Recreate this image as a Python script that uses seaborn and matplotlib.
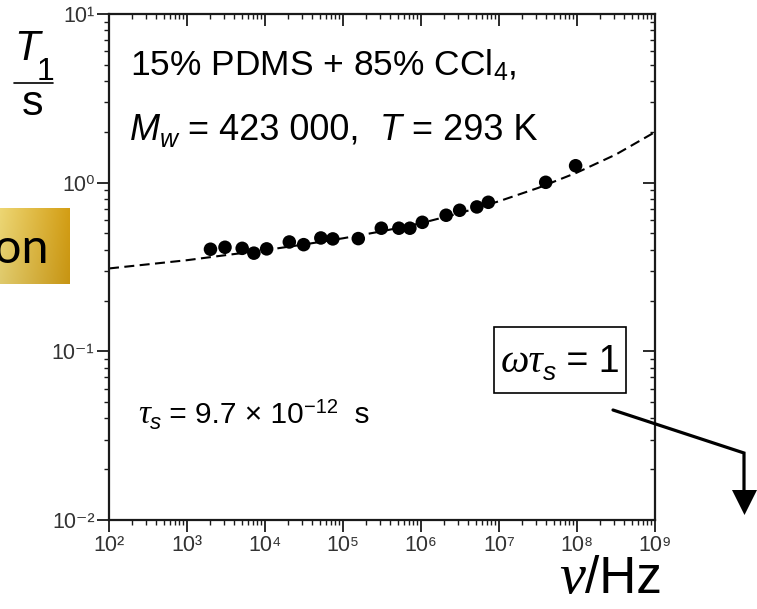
import matplotlib
matplotlib.use("Agg")
import matplotlib.pyplot as plt
from matplotlib.patches import Rectangle, Polygon
from matplotlib.lines import Line2D
from matplotlib.ticker import NullFormatter, LogLocator
import numpy as np
import pandas as pd
import seaborn as sns

# ---------------- data ----------------
freq_hz = [2.0e3, 3.07e3, 5.1e3, 7.2e3, 1.05e4, 2.05e4, 3.13e4, 5.2e4, 7.4e4, 1.57e5,
           3.1e5, 5.2e5, 7.2e5, 1.04e6, 2.1e6, 3.13e6, 5.2e6, 7.3e6, 3.97e7, 9.6e7]
t1_s = [0.403, 0.414, 0.408, 0.382, 0.405, 0.445, 0.429, 0.470, 0.464, 0.466,
        0.537, 0.537, 0.537, 0.582, 0.641, 0.686, 0.718, 0.765, 1.005, 1.26]

curve_freq_hz = [1e2, 3.16e2, 1e3, 3.16e3, 1e4, 3.16e4, 1e5, 3.16e5, 1e6, 3.16e6,
                 1e7, 3.16e7, 1e8, 3.16e8, 1e9]
curve_t1_s = [0.310, 0.328, 0.347, 0.372, 0.398, 0.430, 0.468, 0.515, 0.575, 0.660,
              0.776, 0.930, 1.148, 1.470, 1.995]

xtick_values = [1e2, 1e3, 1e4, 1e5, 1e6, 1e7, 1e8, 1e9]
xtick_labels = ["10²", "10³", "10⁴", "10⁵", "10⁶", "10⁷", "10⁸", "10⁹"]
ytick_values = [1e-2, 1e-1, 1e0, 1e1]
ytick_labels = ["10⁻²", "10⁻¹", "10⁰", "10¹"]

# ---------------- style ----------------
sns.set_style("ticks")
plt.rcParams["font.family"] = ["Liberation Sans", "DejaVu Sans"]
plt.rcParams["mathtext.fontset"] = "custom"
plt.rcParams["mathtext.rm"] = "Liberation Sans"
plt.rcParams["mathtext.it"] = "Liberation Sans:italic"

W, H = 757, 609
fig = plt.figure(figsize=(W / 100, H / 100), dpi=100)
fig.patch.set_facecolor("white")
renderer = fig.canvas.get_renderer()

SANS = ["Liberation Sans", "DejaVu Sans"]
SERIF = ["Liberation Serif", "DejaVu Serif"]


def fx(x):
    return x / W


def fy(y):
    return 1 - y / H


def seq_text(x0, y0, pieces, align="left"):
    """Place text pieces one after another on a common baseline (pixels)."""
    placed = []
    x = x0
    for s, kw, dy in pieces:
        t = fig.text(fx(x), fy(y0 + dy), s, ha="left", va="baseline",
                     color="black", **kw)
        w = t.get_window_extent(renderer).width
        placed.append((t, x))
        x += w
    total = x - x0
    shift = 0
    if align == "center":
        shift = -total / 2
    elif align == "right":
        shift = -total
    for t, xp in placed:
        t.set_x(fx(xp + shift))


ax = fig.add_axes([fx(109), fy(520), (655 - 109) / W, (520 - 14) / H])
ax.set_facecolor("white")

df_pts = pd.DataFrame({"freq": freq_hz, "T1": t1_s})
df_curve = pd.DataFrame({"freq": curve_freq_hz, "T1": curve_t1_s})

sns.lineplot(data=df_curve, x="freq", y="T1", ax=ax, color="black", lw=1.5,
             linestyle=(0, (4.8, 2.6)), sort=False, estimator=None, zorder=2)
sns.scatterplot(data=df_pts, x="freq", y="T1", ax=ax, color="black", s=95,
                edgecolor="none", zorder=3)

ax.set_xscale("log")
ax.set_yscale("log")
ax.set_xlim(1e2, 1e9)
ax.set_ylim(1e-2, 1e1)
ax.set_xlabel("")
ax.set_ylabel("")

ax.set_xticks(xtick_values)
ax.set_xticklabels(xtick_labels)
ax.set_yticks(ytick_values)
ax.set_yticklabels(ytick_labels)
ax.xaxis.set_minor_locator(LogLocator(base=10, subs=np.arange(2, 10)))
ax.yaxis.set_minor_locator(LogLocator(base=10, subs=np.arange(2, 10)))
ax.xaxis.set_minor_formatter(NullFormatter())
ax.yaxis.set_minor_formatter(NullFormatter())

for sp in ax.spines.values():
    sp.set_visible(True)
    sp.set_linewidth(1.6)
    sp.set_color("#1a1a1a")

ax.tick_params(axis="both", which="major", length=8.5, width=1.3, color="#1a1a1a",
               labelsize=15.5, labelcolor="#333333", pad=2,
               bottom=True, left=True, top=True, right=True)
ax.tick_params(axis="both", which="minor", length=3.8, width=1.0, color="#1a1a1a",
               bottom=True, left=True, top=True, right=True)
ax.tick_params(axis="both", which="both", direction="out")
# top and right ticks point inward
for t in ax.xaxis.get_major_ticks() + ax.xaxis.get_minor_ticks():
    t.tick2line.set_marker(3)
for t in ax.yaxis.get_major_ticks() + ax.yaxis.get_minor_ticks():
    t.tick2line.set_marker(0)

# ---------------- annotations ----------------
fig.text(fx(130), fy(75), "15% PDMS + 85% CCl$_4$,", fontsize=25.5,
         ha="left", va="baseline", color="black")

seq_text(130, 140, [
    ("M", dict(fontsize=26, fontstyle="italic", family=SANS), 0),
    ("w", dict(fontsize=18, fontstyle="italic", family=SANS), 7),
    (" = 423 000,  ", dict(fontsize=26, family=SANS), 0),
    ("T", dict(fontsize=26, fontstyle="italic", family=SANS), 0),
    (" = 293 K", dict(fontsize=26, family=SANS), 0),
])

seq_text(138, 423, [
    ("τ", dict(fontsize=24, fontstyle="italic", family=SERIF), 0),
    ("s", dict(fontsize=16, fontstyle="italic", family=SANS), 6),
    (" = 9.7 × 10", dict(fontsize=21.5, family=SANS), 0),
    ("−12", dict(fontsize=14.5, family=SANS), -10),
    ("  s", dict(fontsize=21.5, family=SANS), 0),
])

# omega tau box
fig.patches.append(Rectangle((fx(494), fy(393)), (626 - 494) / W, (393 - 327) / H,
                             transform=fig.transFigure, fill=False,
                             edgecolor="black", linewidth=1.2))
seq_text(560, 372, [
    ("ωτ", dict(fontsize=29, fontstyle="italic", family=SERIF), 0),
    ("s", dict(fontsize=19, fontstyle="italic", family=SANS), 8),
    (" = 1", dict(fontsize=27, family=SANS), 0),
], align="center")

# arrow
fig.lines.append(Line2D([fx(613), fx(744), fx(744)], [fy(410), fy(453), fy(492)],
                        transform=fig.transFigure, color="black", linewidth=2.3,
                        solid_joinstyle="miter"))
fig.patches.append(Polygon([(fx(732), fy(490)), (fx(757), fy(490)), (fx(744.5), fy(515))],
                           closed=True, transform=fig.transFigure,
                           facecolor="black", edgecolor="none"))

# y label as fraction
fig.text(fx(14), fy(60), "T", fontsize=30, fontstyle="italic", family=SANS,
         ha="left", va="baseline", color="black")
fig.text(fx(37), fy(80), "1", fontsize=23, ha="left", va="baseline", color="black")
fig.lines.append(Line2D([fx(14), fx(53)], [fy(83), fy(83)], transform=fig.transFigure,
                        color="black", linewidth=1.2))
fig.text(fx(33), fy(115), "s", fontsize=31, ha="center", va="baseline", color="black")

# x label
seq_text(662, 593, [
    ("ν", dict(fontsize=42, fontstyle="italic", family=SERIF), 0),
    ("/Hz", dict(fontsize=37, family=SANS), 0),
], align="right")

# gold button fragment
bax = fig.add_axes([0, fy(284), 70 / W, (284 - 208) / H])
gx = np.linspace(0, 1, 80)
gy = np.linspace(0, 1, 40)
GX, GY = np.meshgrid(gx, gy)
c_left = np.array([0.93, 0.84, 0.45])
c_right = np.array([0.83, 0.62, 0.08])
img = (c_left[None, None, :] * (1 - GX[..., None]) + c_right[None, None, :] * GX[..., None])
img = img * (1 - 0.06 * GY[..., None])
bax.imshow(np.clip(img, 0, 1), aspect="auto", extent=[0, 1, 0, 1], origin="upper")
bax.set_axis_off()
fig.text(fx(49), fy(263), "on", fontsize=35, family=["Lato", "DejaVu Sans"],
         ha="right", va="baseline", color="black")

fig.savefig("out.png", dpi=100, facecolor="white")
